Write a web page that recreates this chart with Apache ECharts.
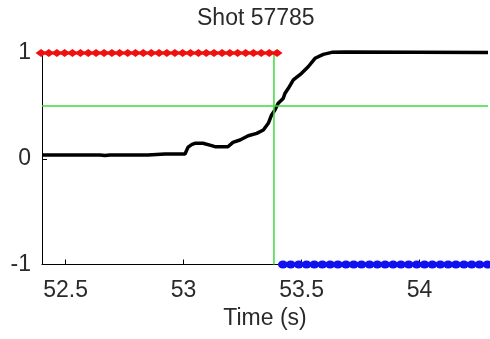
<!DOCTYPE html>
<html>
<head>
<meta charset="utf-8">
<script src="https://cdn.jsdelivr.net/npm/echarts@6/dist/echarts.min.js"></script>
<style>html,body{margin:0;padding:0;background:#fff}#c{width:490px;height:339px}</style>
</head>
<body>
<div id="c"></div>
<script>
var titleText = 'Shot 57785';
var xName = 'Time (s)';
var xTicks = [52.5, 53, 53.5, 54];
var yTicks = [-1, 0, 1];

var signalT = [52.40, 52.646, 52.667, 52.688, 52.849, 52.921, 53.006, 53.019, 53.036, 53.048, 53.082, 53.119, 53.133, 53.188, 53.209, 53.239, 53.274, 53.310, 53.338, 53.359, 53.373, 53.387, 53.401, 53.422, 53.430, 53.444, 53.465, 53.500, 53.528, 53.557, 53.592, 53.628, 53.684, 54.29];
var signalV = [0.035, 0.035, 0.03, 0.035, 0.035, 0.045, 0.045, 0.11, 0.136, 0.146, 0.146, 0.124, 0.114, 0.114, 0.155, 0.177, 0.218, 0.24, 0.272, 0.335, 0.414, 0.46, 0.524, 0.57, 0.62, 0.666, 0.745, 0.808, 0.87, 0.95, 0.987, 1.006, 1.01, 1.005];

var redT = [52.396, 52.429, 52.463, 52.496, 52.529, 52.563, 52.596, 52.629, 52.663, 52.696, 52.729, 52.763, 52.796, 52.829, 52.863, 52.896, 52.929, 52.963, 52.996, 53.029, 53.063, 53.096, 53.129, 53.163, 53.196, 53.229, 53.263, 53.296, 53.329, 53.363, 53.396];
var redV = 1;
var blueT = [53.421, 53.454, 53.488, 53.521, 53.554, 53.588, 53.621, 53.654, 53.688, 53.721, 53.754, 53.788, 53.821, 53.854, 53.888, 53.921, 53.954, 53.988, 54.021, 54.054, 54.088, 54.121, 54.154, 54.188, 54.221, 54.254, 54.288];
var blueV = -1;

var vLineT = 53.383;
var vLineY = [-1, 1];
var hLineV = 0.5;
var xRange = [52.4, 54.29];

function pairs(xs, ys) { return xs.map(function (x, i) { return [x, Array.isArray(ys) ? ys[i] : ys]; }); }

var green = '#3cdc3c';
var font = 'Liberation Sans, Arial, sans-serif';
var chart = echarts.init(document.getElementById('c'), null, {renderer: 'canvas'});
chart.setOption({
  animation: false,
  backgroundColor: '#fff',
  title: {
    text: titleText, left: 197, top: 7, padding: 0,
    textStyle: {fontFamily: font, fontSize: 23, fontWeight: 'normal', color: '#2a2a2a'}
  },
  grid: {left: 42, right: 2, top: 53, bottom: 74.5, containLabel: false, outerBoundsMode: 'none'},
  xAxis: {
    type: 'value', min: xRange[0], max: xRange[1],
    name: xName, nameLocation: 'middle', nameGap: 42,
    nameTextStyle: {fontFamily: font, fontSize: 23, color: '#2a2a2a'},
    axisLine: {show: true, onZero: false, lineStyle: {color: '#000', width: 1}},
    axisTick: {show: true, inside: true, length: 5, customValues: xTicks, lineStyle: {color: '#000'}},
    axisLabel: {customValues: xTicks, margin: 15, fontFamily: font, fontSize: 23, color: '#2a2a2a'},
    splitLine: {show: false}
  },
  yAxis: {
    type: 'value', min: -1, max: 1, interval: 1,
    axisLine: {show: true, onZero: false, lineStyle: {color: '#000', width: 1}},
    axisTick: {show: true, inside: true, length: 5, customValues: yTicks, lineStyle: {color: '#000'}},
    axisLabel: {customValues: yTicks, margin: 11, fontFamily: font, fontSize: 23, color: '#2a2a2a', padding: [4, 0, 0, 0]},
    splitLine: {show: false}
  },
  series: [
    {type: 'line', data: pairs(signalT, signalV), symbol: 'none', clip: false, z: 3,
     lineStyle: {color: '#000', width: 3.5}},
    {type: 'line', data: [[vLineT, vLineY[0]], [vLineT, vLineY[1]]], symbol: 'none', clip: false, z: 4,
     lineStyle: {color: green, width: 1.5}},
    {type: 'line', data: [[xRange[0], hLineV], [xRange[1], hLineV]], symbol: 'none', clip: false, z: 4,
     lineStyle: {color: green, width: 1.5}},
    {type: 'line', data: pairs(redT, redV), symbol: 'diamond', symbolSize: [11, 8], clip: false, z: 5,
     lineStyle: {color: '#ff0000', width: 3}, itemStyle: {color: '#f01010'}},
    {type: 'line', data: pairs(blueT, blueV), symbol: 'circle', symbolSize: [10, 8], clip: false, z: 5,
     lineStyle: {color: '#0000ff', width: 3}, itemStyle: {color: '#1010f0'}}
  ]
});
</script>
</body>
</html>
